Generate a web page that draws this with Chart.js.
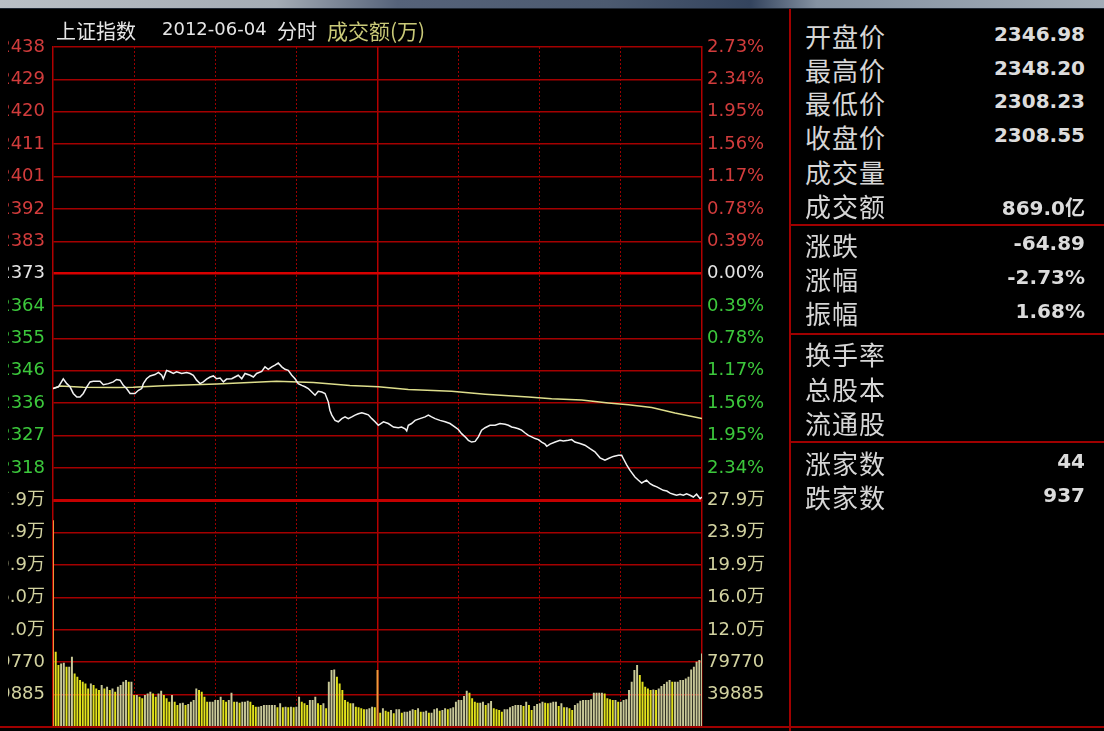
<!DOCTYPE html>
<html>
<head>
<meta charset="utf-8">
<title>上证指数 2012-06-04 分时</title>
<script src="https://cdn.jsdelivr.net/npm/chart.js@4.4.1/dist/chart.umd.min.js"></script>
<style>
html, body { margin:0; padding:0; background:#000; }
body { width:1104px; height:731px; overflow:hidden; position:relative; }
#band { position:absolute; left:0; top:0; width:1104px; height:8px;
  background:linear-gradient(to right, #b9bfc6 0%, #a4acb5 25%, #56637a 36%, #4c5a70 55%, #34445e 68%, #8592a2 74%, #a2acb7 100%);
  border-bottom:1px solid #1e2632; }
#c { position:absolute; left:8px; top:0; }
.t { position:absolute; white-space:nowrap; }
.rule { position:absolute; background:#a00000; }
.lab { position:absolute; left:805px; height:34px; line-height:34px; font-size:26px; letter-spacing:1px;
  color:#d6d6d6; font-family:'Noto Sans CJK SC', sans-serif; }
.val { position:absolute; right:19px; height:34px; line-height:34px; text-align:right;
  font:bold 20px 'DejaVu Sans', 'Noto Sans CJK SC'; color:#dcdcdc; }
</style>
</head>
<body>
<div id="band"></div>
<canvas id="c" width="782" height="731"></canvas>

<div class="t" style="left:56px;top:18px;line-height:26px;font-size:20px;font-family:'Noto Sans CJK SC';color:#e6e6e6">上证指数</div>
<div class="t" style="left:162px;top:18px;line-height:26px;font:18px 'DejaVu Sans';color:#e6e6e6">2012-06-04</div>
<div class="t" style="left:277px;top:18px;line-height:26px;font-size:20px;font-family:'Noto Sans CJK SC';color:#e6e6e6">分时</div>
<div class="t" style="left:327px;top:17px;line-height:26px;font-size:21px;font-family:'Noto Sans CJK SC';color:#c9c978">成交额(万)</div>

<div class="rule" style="left:789px;top:9px;width:2px;height:722px"></div>
<div class="rule" style="left:790px;top:224px;width:314px;height:2px"></div>
<div class="rule" style="left:790px;top:333px;width:314px;height:2px"></div>
<div class="rule" style="left:790px;top:441px;width:314px;height:2px"></div>
<div class="rule" style="left:0;top:726px;width:1104px;height:2px"></div>

<div id="panel"></div>

<script>
// 昨收
const prevClose = 2373.44;

// 分时价格 (分钟序号, 0 = 9:30, 120 = 11:30/13:00, 240 = 15:00)
const priceMinutes = [
  0, 2.0, 3.8, 5.1, 6.3, 7.5, 8.8, 10.0, 11.2, 12.5, 13.7, 14.9, 17.4, 18.6, 20.5, 22.3, 23.5, 24.8, 26.0, 27.2,
  28.5, 30.3, 31.6, 32.8, 33.4, 34.6, 35.9, 37.7, 39.0, 40.2, 40.8, 42.0, 43.3, 44.5, 45.7, 47.6, 49.4, 50.7, 51.9, 53.1,
  54.4, 55.6, 56.8, 58.1, 59.3, 60.5, 61.8, 63.0, 64.2, 66.1, 67.3, 68.5, 69.8, 71.0, 72.9, 74.1, 75.3, 77.2, 78.4, 79.6,
  80.9, 82.1, 83.3, 84.6, 85.8, 87.0, 88.3, 89.5, 90.7, 92.0, 93.2, 94.4, 95.7, 96.9, 98.1, 99.4, 100.6, 101.8, 102.4, 103.1,
  104.3, 105.5, 106.8, 108.0, 109.2, 110.5, 111.7, 112.9, 114.2, 115.4, 116.6, 117.9, 119.1, 120.3,
  122.2, 124.0, 125.9, 127.7, 128.9, 130.2, 130.8, 131.4, 132.6, 133.9, 135.7, 137.6, 138.8, 140.0, 141.3, 143.1,
  145.0, 146.8, 148.7, 149.9, 151.1, 152.4, 153.6, 154.8, 156.1, 157.3, 158.5, 159.8, 161.6, 163.5, 165.3, 167.2,
  168.4, 169.6, 170.9, 172.1, 173.3, 174.6, 175.8, 177.0, 178.3, 179.5, 180.7, 182.0, 182.6, 183.8, 185.7, 187.5,
  188.7, 190.6, 191.8, 193.0, 194.9, 196.7, 198.6, 200.4, 202.3, 204.1, 205.4, 207.2, 209.1, 210.3, 210.9, 212.2,
  213.4, 215.2, 216.5, 217.7, 219.5, 220.8, 222.0, 223.3, 224.5, 225.7, 227.0, 228.2, 229.4, 230.6, 231.9, 233.1,
  234.3, 235.6, 236.8, 238.0, 239.3, 240
];
const priceValues = [
  2340.6, 2341.1, 2343.4, 2342.0, 2341.1, 2339.2, 2338.2, 2338.2, 2339.2, 2341.1, 2342.5, 2342.7, 2342.7, 2341.7, 2342.0, 2342.5, 2343.2, 2343.0, 2341.5, 2340.6,
  2339.2, 2339.2, 2340.1, 2340.6, 2342.0, 2343.4, 2344.2, 2344.6, 2345.2, 2344.4, 2343.4, 2345.8, 2345.4, 2344.9, 2345.4, 2344.9, 2345.2, 2344.9, 2344.4, 2343.0,
  2342.0, 2342.5, 2343.3, 2343.9, 2344.2, 2343.4, 2343.6, 2342.5, 2343.3, 2343.4, 2343.9, 2344.4, 2343.4, 2344.9, 2344.4, 2343.9, 2344.9, 2345.5, 2346.8, 2346.1,
  2346.8, 2347.3, 2347.9, 2346.8, 2346.1, 2345.8, 2344.4, 2343.4, 2342.0, 2341.5, 2341.1, 2340.6, 2339.6, 2338.7, 2339.8, 2339.6, 2339.2, 2336.8, 2334.4, 2333.0,
  2331.5, 2331.1, 2332.0, 2332.5, 2332.0, 2332.5, 2333.0, 2333.4, 2333.7, 2333.4, 2333.1, 2332.0, 2331.1, 2330.1,
  2331.1, 2330.6, 2329.6, 2329.4, 2329.6, 2329.1, 2328.5, 2330.1, 2330.6, 2331.5, 2332.0, 2332.5, 2333.0, 2332.5, 2332.0, 2331.5,
  2331.1, 2330.6, 2329.6, 2328.9, 2327.7, 2326.8, 2325.8, 2325.3, 2325.5, 2326.8, 2328.7, 2329.4, 2330.1, 2330.1, 2330.6, 2330.4,
  2330.1, 2329.6, 2329.4, 2329.1, 2328.7, 2327.9, 2327.2, 2326.8, 2326.3, 2326.0, 2325.3, 2324.7, 2324.1, 2324.7, 2325.3, 2325.8,
  2325.6, 2325.8, 2326.0, 2325.3, 2324.9, 2324.4, 2323.4, 2322.5, 2320.8, 2320.1, 2320.6, 2321.2, 2321.5, 2321.5, 2320.6, 2318.7,
  2317.2, 2315.3, 2314.4, 2313.6, 2314.4, 2313.4, 2312.9, 2312.5, 2312.0, 2311.5, 2311.3, 2310.7, 2310.4, 2310.1, 2310.4, 2310.1,
  2310.5, 2310.1, 2309.6, 2310.4, 2309.1, 2309.6
];

// 均价线
const avgMinutes = [0, 2.6, 11.2, 23.5, 29.7, 40.8, 60.5, 82.7, 96.3, 109.8, 120.3,
  131.4, 147.4, 159.8, 175.8, 184.4, 195.5, 205.4, 212.8, 221.4, 230.0, 240];
const avgValues = [2340.6, 2341.3, 2341.0, 2340.9, 2341.0, 2341.4, 2341.9, 2342.7, 2342.3, 2341.5, 2341.1,
  2340.3, 2339.8, 2339.0, 2338.2, 2337.7, 2337.3, 2336.5, 2336.0, 2335.2, 2333.6, 2332.0];

// 每分钟成交额(万), 241 根
const volumes = [
  254600,
  92660, 76260, 78310, 79130, 74210, 74210, 86510, 66010, 61910, 57810,
  55760, 53710, 47560, 53710, 51660, 47560, 45510, 51660, 47560, 49610,
  45510, 47560, 43460, 49610, 51660, 55760, 57810, 55760, 55760, 39360,
  39360, 37310, 35260, 39360, 41410, 43460, 41410, 37310, 41410, 44690,
  39360, 35260, 31160, 39360, 31160, 27060, 29110, 29930, 27060, 28290,
  31160, 33210, 47560, 45510, 43460, 37310, 31160, 31160, 31160, 33210,
  33210, 37310, 33210, 31160, 33210, 42230, 31160, 31160, 29930, 31160,
  31160, 32390, 31160, 27060, 25010, 25010, 25830, 27060, 27060, 27060,
  27060, 27060, 24190, 29110, 24190, 25010, 24190, 25010, 24190, 25010,
  37310, 31160, 29110, 27060, 33210, 33210, 37310, 29110, 27060, 29110,
  22960, 55760, 70110, 70930, 61910, 53710, 45510, 33210, 31160, 29110,
  29110, 25010, 24190, 22960, 21730, 21730, 22960, 25010, 24190,
  70100,
  17630, 22960, 20090, 18860, 20910, 16810, 21730, 21730, 17630, 18860,
  18860, 20090, 21730, 20910, 22960, 18860, 18860, 20090, 17630, 17630,
  21730, 22960, 20090, 20910, 22960, 21730, 22960, 24190, 31160, 33210,
  33210, 38130, 44690, 42230, 35260, 31160, 29930, 29930, 31160, 27060,
  29110, 31980, 22960, 21730, 20910, 18860, 21730, 21730, 24190, 25830,
  27060, 27060, 27060, 25830, 31160, 27060, 20910, 25830, 28290, 29110,
  31160, 29930, 29110, 29930, 31160, 31160, 25830, 29110, 24190, 24190,
  22960, 20910, 27060, 29110, 32390, 33210, 33210, 33210, 34030, 42230,
  42230, 42230, 42230, 41410, 35260, 34030, 33210, 33210, 31160, 31160,
  33210, 34030, 45510, 55760, 70110, 76260, 63960, 55760, 49610, 47560,
  45510, 46330, 45510, 47560, 50430, 52890, 55760, 57810, 55760, 55760,
  55760, 57810, 57810, 59860, 61910, 70930, 74210, 80360, 82410, 90610
];

// 刻度文字, 自上而下
const priceTickLabels = ['2438', '2429', '2420', '2411', '2401', '2392', '2383', '2373',
  '2364', '2355', '2346', '2336', '2327', '2318', ''];
const pctTickLabels = ['2.73%', '2.34%', '1.95%', '1.56%', '1.17%', '0.78%', '0.39%', '0.00%',
  '0.39%', '0.78%', '1.17%', '1.56%', '1.95%', '2.34%', ''];
const volTickLabels = ['27.9万', '23.9万', '19.9万', '16.0万', '12.0万', '79770', '39885', ''];
const volStep = 39885;
const gridMinutes = [30, 60, 90, 150, 180, 210];

// 右侧信息栏
const panelLabels = ['开盘价', '最高价', '最低价', '收盘价', '成交量', '成交额', '涨跌', '涨幅', '振幅',
  '换手率', '总股本', '流通股', '涨家数', '跌家数'];
const panelValues = ['2346.98', '2348.20', '2308.23', '2308.55', '', '869.0亿', '-64.89', '-2.73%', '1.68%',
  '', '', '', '44', '937'];


// ---- 信息栏 ----
const rowCenters = [36, 70, 103, 137, 172, 206, 245, 279, 313, 354, 389, 423, 463, 497];
const panel = document.getElementById('panel');
panelLabels.forEach((txt, i) => {
  const l = document.createElement('div');
  l.className = 'lab';
  l.style.top = (rowCenters[i] - 17) + 'px';
  l.textContent = txt;
  panel.appendChild(l);
  if (panelValues[i]) {
    const v = document.createElement('div');
    v.className = 'val';
    v.style.top = (rowCenters[i] - 14) + 'px';
    v.textContent = panelValues[i];
    panel.appendChild(v);
  }
});

// ---- 图表 ----
const pMin = prevClose * (1 - 0.0273);
const pMax = prevClose * (1 + 0.0273);
const vMax = volStep * 7;

const RED = '#d23c3c', WHITE = '#e4e4e4', GREEN = '#3cc83c', KHAKI = '#d2d2a0';
const tickFont = { family: "'DejaVu Sans', 'Noto Sans CJK SC'", size: 18 };

function evenTicks(min, max, n) {
  const t = [];
  for (let i = 0; i <= n; i++) t.push({ value: min + (max - min) * i / n });
  return t;
}
function priceColor(k) {
  return k < 7 ? RED : (k === 7 ? WHITE : GREEN);
}
function noPad(s) {
  s.paddingTop = 0; s.paddingBottom = 0; s.paddingLeft = 0; s.paddingRight = 0;
}

const priceGrid = {
  drawTicks: false,
  color: c => c.index === 7 ? '#d80000' : (c.index === 0 ? '#c40000' : '#a40000'),
  lineWidth: c => c.index === 7 ? 2.5 : (c.index === 0 ? 3 : 1.5)
};
const volGrid = {
  drawTicks: false,
  color: c => c.index === 7 ? '#c40000' : '#a40000',
  lineWidth: c => c.index === 7 ? 3 : 1.5
};
const edge = { display: true, color: '#b00000', width: 1.5 };

new Chart(document.getElementById('c'), {
  type: 'line',
  data: {
    datasets: [
      {
        type: 'line',
        label: '价格',
        data: priceMinutes.map((m, i) => ({ x: m, y: priceValues[i] })),
        xAxisID: 'x',
        yAxisID: 'yP',
        borderColor: '#f2f2f2',
        borderWidth: 1.5,
        pointRadius: 0,
        tension: 0
      },
      {
        type: 'line',
        label: '均价',
        data: avgMinutes.map((m, i) => ({ x: m, y: avgValues[i] })),
        xAxisID: 'x',
        yAxisID: 'yP',
        borderColor: '#dede8c',
        borderWidth: 1.5,
        pointRadius: 0,
        tension: 0
      },
      {
        type: 'bar',
        label: '成交额',
        data: volumes.map((v, i) => ({ x: i, y: v })),
        xAxisID: 'x',
        yAxisID: 'yV',
        backgroundColor: c => {
          const i = c.dataIndex;
          if (i === 0 || i === 120) return '#f09a3a';
          return (i > 0 && volumes[i] < volumes[i - 1]) ? '#e2e21c' : '#c8c898';
        },
        borderWidth: 0,
        barPercentage: 0.72,
        categoryPercentage: 1
      }
    ]
  },
  options: {
    responsive: false,
    animation: false,
    layout: { padding: { top: 47, bottom: 4, left: 0, right: 0 } },
    plugins: { legend: { display: false }, tooltip: { enabled: false } },
    scales: {
      x: {
        type: 'linear', position: 'bottom', min: 0, max: 240, offset: false,
        afterBuildTicks: s => { s.ticks = gridMinutes.map(v => ({ value: v })); },
        afterFit: s => { s.height = 0; noPad(s); },
        ticks: { display: false },
        grid: { drawTicks: false, offset: false, color: '#9a0000', lineWidth: 1 },
        border: { display: false, dash: [2, 2] }
      },
      xMid: {
        type: 'linear', position: 'bottom', min: 0, max: 240, offset: false,
        afterBuildTicks: s => { s.ticks = [{ value: 120 }]; },
        afterFit: s => { s.height = 0; noPad(s); },
        ticks: { display: false },
        grid: { drawTicks: false, offset: false, color: '#b40000', lineWidth: 1.5 },
        border: { display: false }
      },
      yP: {
        type: 'linear', position: 'left', stack: 'L', stackWeight: 14, weight: 1,
        min: pMin, max: pMax,
        afterBuildTicks: s => { s.ticks = evenTicks(pMin, pMax, 14); },
        afterFit: s => { s.width = 45; noPad(s); },
        ticks: {
          autoSkip: false, padding: 8, font: tickFont,
          color: c => priceColor(14 - c.index),
          callback: (v, i) => priceTickLabels[14 - i]
        },
        grid: priceGrid,
        border: edge
      },
      yV: {
        type: 'linear', position: 'left', stack: 'L', stackWeight: 7, weight: 0,
        min: 0, max: vMax,
        afterBuildTicks: s => { s.ticks = evenTicks(0, vMax, 7); },
        afterFit: s => { s.width = 45; noPad(s); },
        ticks: {
          autoSkip: false, padding: 8, font: tickFont, color: KHAKI,
          callback: (v, i) => volTickLabels[7 - i]
        },
        grid: volGrid,
        border: edge
      },
      yPct: {
        type: 'linear', position: 'right', stack: 'R', stackWeight: 14, weight: 0,
        min: pMin, max: pMax,
        afterBuildTicks: s => { s.ticks = evenTicks(pMin, pMax, 14); },
        afterFit: s => { s.width = 88; noPad(s); },
        ticks: {
          autoSkip: false, padding: 5, font: tickFont,
          color: c => priceColor(14 - c.index),
          callback: (v, i) => pctTickLabels[14 - i]
        },
        grid: { display: false, drawTicks: false },
        border: edge
      },
      yVR: {
        type: 'linear', position: 'right', stack: 'R', stackWeight: 7, weight: 1,
        min: 0, max: vMax,
        afterBuildTicks: s => { s.ticks = evenTicks(0, vMax, 7); },
        afterFit: s => { s.width = 88; noPad(s); },
        ticks: {
          autoSkip: false, padding: 5, font: tickFont, color: KHAKI,
          callback: (v, i) => volTickLabels[7 - i]
        },
        grid: { display: false, drawTicks: false },
        border: edge
      }
    }
  }
});
</script>
</body>
</html>
